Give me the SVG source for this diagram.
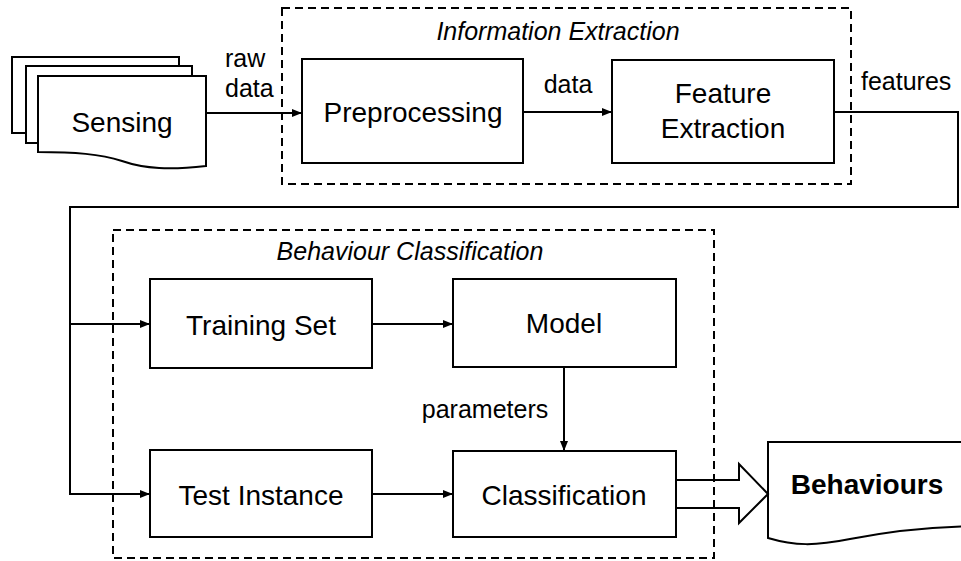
<svg xmlns="http://www.w3.org/2000/svg" width="961" height="561" viewBox="0 0 961 561">
<defs>
<marker id="ah" markerUnits="userSpaceOnUse" markerWidth="10" markerHeight="8" refX="10" refY="4" orient="auto">
<path d="M0,0 L10,4 L0,8 z" fill="#000"/>
</marker>
<style>
.box{fill:#fff;stroke:#000;stroke-width:2}
.grp{fill:none;stroke:#000;stroke-width:2;stroke-dasharray:8 5}
.ln{fill:none;stroke:#000;stroke-width:2}
.t{font-family:"Liberation Sans",Arial,sans-serif;font-size:28px;fill:#000;text-anchor:middle}
.lb{font-family:"Liberation Sans",Arial,sans-serif;font-size:25px;fill:#000}
.it{font-family:"Liberation Sans",Arial,sans-serif;font-size:25px;font-style:italic;fill:#000;text-anchor:middle}
</style>
</defs>
<rect width="961" height="561" fill="#fff"/>
<g id="group-info">
<rect class="grp" x="282" y="8" width="569" height="176"/>
<text class="it" x="558" y="40">Information Extraction</text>
</g>
<g id="group-behaviour">
<rect class="grp" x="113" y="230" width="601" height="328"/>
<text class="it" x="410" y="260">Behaviour Classification</text>
</g>
<g id="sensing">
<rect class="box" x="12" y="57" width="167" height="76"/>
<rect class="box" x="26" y="66" width="166" height="77"/>
<path class="box" d="M38,76 H206 V166 C170,170 145,169 122,161 C100,154 75,152 38,152 Z"/>
<text class="t" x="122" y="132">Sensing</text>
</g>
<g id="preprocessing">
<rect class="box" x="302" y="59" width="221" height="104"/>
<text class="t" x="413" y="122">Preprocessing</text>
</g>
<g id="feature-extraction">
<rect class="box" x="612" y="60" width="222" height="103"/>
<text class="t" x="723" y="103">Feature</text>
<text class="t" x="723" y="138">Extraction</text>
</g>
<g id="training-set">
<rect class="box" x="150" y="279" width="222" height="89"/>
<text class="t" x="261" y="335">Training Set</text>
</g>
<g id="model">
<rect class="box" x="453" y="279" width="223" height="88"/>
<text class="t" x="564" y="333">Model</text>
</g>
<g id="test-instance">
<rect class="box" x="150" y="450" width="222" height="87"/>
<text class="t" x="261" y="505">Test Instance</text>
</g>
<g id="classification">
<rect class="box" x="453" y="451" width="223" height="86"/>
<text class="t" x="564" y="505">Classification</text>
</g>
<g id="behaviours">
<path class="box" d="M768,442 H985 V526 C930,526 890,531 850,539 C815,546 795,546 768,538 Z"/>
<text class="t" x="867" y="494" style="font-weight:bold">Behaviours</text>
</g>
<g id="connectors">
<path class="ln" d="M206,113 H302" marker-end="url(#ah)"/>
<path class="ln" d="M523,112 H612" marker-end="url(#ah)"/>
<path class="ln" d="M834,112 H958 V207 H70 V494 H150" marker-end="url(#ah)"/>
<path class="ln" d="M70,324 H150" marker-end="url(#ah)"/>
<path class="ln" d="M372,324 H453" marker-end="url(#ah)"/>
<path class="ln" d="M372,494 H453" marker-end="url(#ah)"/>
<path class="ln" d="M564,367 V451" marker-end="url(#ah)"/>
<path class="ln" d="M676,480 H739 V464 L768,494 L739,523 V508 H676"/>
<text class="lb" x="225" y="67">raw</text>
<text class="lb" x="225" y="97">data</text>
<text class="lb" x="568" y="93" text-anchor="middle">data</text>
<text class="lb" x="861" y="90">features</text>
<text class="lb" x="485" y="418" text-anchor="middle">parameters</text>
</g>
</svg>
